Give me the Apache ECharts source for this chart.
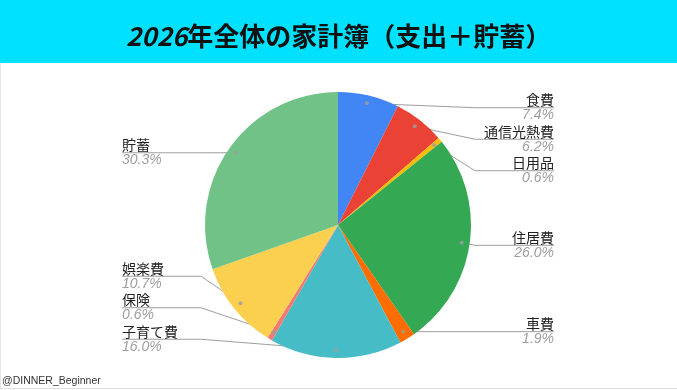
<!DOCTYPE html>
<html><head><meta charset="utf-8">
<script src="https://cdn.jsdelivr.net/npm/echarts@6/dist/echarts.min.js"></script>
<style>html,body{margin:0;padding:0;background:#fff}#c{width:677px;height:390px}</style>
</head><body><div id="c"></div>
<script>
const titleYear = '2026';
const titleRest = '年全体の家計簿（支出＋貯蓄）';
const categories = ['食費','通信光熱費','日用品','住居費','車費','子育て費','保険','娯楽費','貯蓄'];
const values = [7.4, 6.2, 0.6, 26.0, 1.9, 16.0, 0.6, 10.7, 30.3];
const colors = ['#4285F4','#EA4335','#FBBC04','#34A853','#FF6D01','#46BDC6','#F07B72','#FCD04F','#71C287'];
const credit = '@DINNER_Beginner';

const W = 677, H = 390;
const BOX = {left: 122, top: 92, width: 432, height: 263};
const cx = BOX.left + BOX.width / 2, cy = 225;
const R = 133;
const DOT_RATIO = 0.94;
const total = values.reduce((a, b) => a + b, 0);

const dots = [];
let acc = 0;
values.forEach(v => { dots.push([DOT_RATIO, acc + v / 2]); acc += v; });

const chart = echarts.init(document.getElementById('c'), null, {renderer: 'canvas'});
chart.setOption({
  animation: false,
  backgroundColor: '#ffffff',
  graphic: [
    {type: 'rect', shape: {x: 0, y: 0, width: W, height: 63}, style: {fill: '#00E1FF'}, z: -10},
    {type: 'line', shape: {x1: 0.5, y1: 63, x2: 0.5, y2: H}, style: {stroke: '#e6e6e6', lineWidth: 1}},
    {type: 'line', shape: {x1: 0, y1: H - 1.5, x2: W, y2: H - 1.5}, style: {stroke: '#e0e0e0', lineWidth: 1}},
    {type: 'text', left: 2, top: 376, style: {text: credit, fontSize: 10.5, fontFamily: 'Liberation Sans', fill: '#333'}}
  ],
  title: {
    text: '{a|' + titleYear + '}{b|' + titleRest + '}',
    left: 121, top: 14,
    textStyle: {
      rich: {
        a: {fontSize: 26, fontWeight: 'bold', fontStyle: 'italic', fontFamily: 'Noto Sans CJK JP', color: '#111', lineHeight: 34},
        b: {fontSize: 26, fontWeight: 'bold', fontFamily: 'Noto Sans CJK JP', color: '#111', lineHeight: 34}
      }
    }
  },
  polar: {center: [cx, cy], radius: R},
  angleAxis: {type: 'value', min: 0, max: total, startAngle: 90, clockwise: true, show: false},
  radiusAxis: {type: 'value', min: 0, max: 1, show: false},
  series: [
    {
      type: 'pie',
      left: BOX.left, top: BOX.top, width: BOX.width, height: BOX.height,
      center: ['50%', (cy - BOX.top) / BOX.height * 100 + '%'], radius: R,
      startAngle: 90, clockwise: true,
      avoidLabelOverlap: true,
      emphasis: {disabled: true},
      data: categories.map((n, i) => ({name: n, value: values[i], itemStyle: {color: colors[i]}})),
      label: {
        position: 'outer', alignTo: 'edge', edgeDistance: 0,
        formatter: p => '{n|' + p.name + '}\n{p|' + values[p.dataIndex].toFixed(1) + '%}',
        rich: {
          n: {fontSize: 14, fontFamily: 'Noto Sans CJK JP', color: '#222', lineHeight: 15.5},
          p: {fontSize: 14, fontFamily: 'Liberation Sans', fontStyle: 'italic', color: '#9e9e9e', lineHeight: 15.5}
        }
      },
      labelLine: {show: true, length: -8, length2: 5, lineStyle: {color: '#9e9e9e', width: 1}},
      labelLayout: function (params) {
        const pts = params.labelLinePoints;
        if (!pts) return {};
        const p0 = pts[0];
        const dx = p0[0] - cx, dy = p0[1] - cy;
        const d = Math.sqrt(dx * dx + dy * dy) || 1;
        const k = R * DOT_RATIO / d;
        const dot = [cx + dx * k, cy + dy * k];
        const rect = params.labelRect;
        const y = rect.y + rect.height / 2;
        const isLeft = dx < 0;
        const elbowX = isLeft ? cx - R - 4 : cx + R + 4;
        const edgeX = isLeft ? rect.x : rect.x + rect.width;
        return {labelLinePoints: [dot, [elbowX, y], [edgeX, y]]};
      }
    },
    {
      type: 'scatter', coordinateSystem: 'polar', data: dots,
      symbolSize: 4, itemStyle: {color: '#9e9e9e'}, silent: true, z: 5
    }
  ]
});
</script>
</body></html>
